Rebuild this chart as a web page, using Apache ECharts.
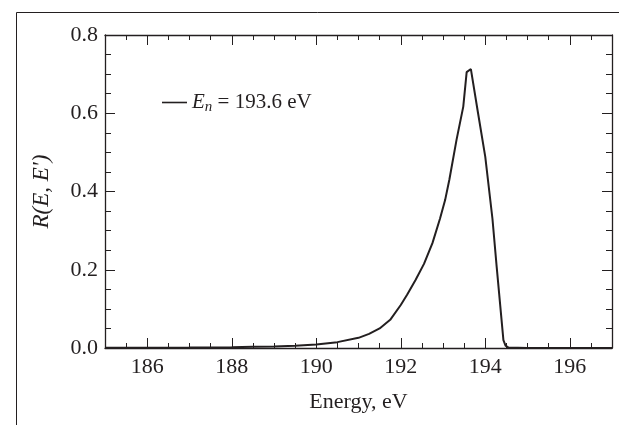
<!DOCTYPE html>
<html><head><meta charset="utf-8">
<script src="https://cdn.jsdelivr.net/npm/echarts@6/dist/echarts.min.js"></script>
<style>html,body{margin:0;padding:0;background:#fff}#c{width:619px;height:425px}</style>
</head><body><div id="c"></div>
<script>
const energy = [185, 186, 187, 188, 188.5, 189, 189.5, 190, 190.5, 191, 191.25, 191.5, 191.75, 192, 192.15, 192.35, 192.55, 192.75, 192.93, 193.05, 193.15, 193.32, 193.48, 193.56, 193.66, 193.83, 194.0, 194.17, 194.27, 194.43, 194.48, 194.55, 195, 196, 197];
const response = [0.0005, 0.0008, 0.0012, 0.002, 0.003, 0.004, 0.006, 0.009, 0.015, 0.026, 0.036, 0.05, 0.072, 0.11, 0.136, 0.174, 0.215, 0.268, 0.331, 0.378, 0.43, 0.532, 0.617, 0.705, 0.713, 0.60, 0.489, 0.331, 0.208, 0.02, 0.006, 0.001, 0, 0, 0];
const xMajor = [186, 188, 190, 192, 194, 196];
const yMajor = [0, 0.2, 0.4, 0.6, 0.8];
const seriesName = 'En';

const FONT = '"Liberation Serif", "DejaVu Serif", serif';
const chart = echarts.init(document.getElementById('c'), null, {renderer: 'canvas'});
const black = '#231f20';
const common = {type: 'value', min: 185, max: 197, gridIndex: 0, splitLine: {show: false}};
const commonY = {type: 'value', min: 0, max: 0.8, gridIndex: 0, splitLine: {show: false}};
chart.setOption({
  animation: false,
  backgroundColor: '#fff',
  grid: {left: 105, top: 35, right: 7, bottom: 77, containLabel: false},
  graphic: [{type: 'polyline', shape: {points: [[16.5, 425], [16.5, 12.5], [619, 12.5]]}, style: {stroke: black, lineWidth: 1, fill: null}}],
  legend: {
    left: 157, top: 87, itemWidth: 25, itemHeight: 14, itemGap: 10,
    icon: 'path://M0,0 L25,0 L25,1.6 L0,1.6 Z',
    data: [seriesName],
    formatter: () => '{i|E}{s|n}{t| = 193.6 eV}',
    textStyle: {
      color: black, fontFamily: FONT, fontSize: 21,
      rich: {
        i: {fontStyle: 'italic', fontFamily: FONT, fontSize: 21, color: black},
        s: {fontStyle: 'italic', fontFamily: FONT, fontSize: 15, color: black, verticalAlign: 'bottom', padding: [9, 0, 0, 0]},
        t: {fontFamily: FONT, fontSize: 21, color: black}
      }
    }
  },
  xAxis: [
    Object.assign({}, common, {position: 'bottom', interval: 0.5,
      name: 'Energy, eV', nameLocation: 'middle', nameGap: 43,
      nameTextStyle: {fontFamily: FONT, fontSize: 22, color: black},
      axisLine: {show: true, lineStyle: {color: black, width: 1.3}},
      axisTick: {show: true, inside: true, length: 5, lineStyle: {color: black, width: 1}},
      axisLabel: {show: true, customValues: xMajor, margin: 8, fontFamily: FONT, fontSize: 22, color: black}}),
    Object.assign({}, common, {position: 'bottom',
      axisLine: {show: false},
      axisTick: {show: true, inside: true, length: 10, customValues: xMajor, lineStyle: {color: black, width: 1}},
      axisLabel: {show: false}}),
    Object.assign({}, common, {position: 'top', interval: 0.5,
      axisLine: {show: true, lineStyle: {color: black, width: 1.3}},
      axisTick: {show: true, inside: true, length: 5, lineStyle: {color: black, width: 1}},
      axisLabel: {show: false}}),
    Object.assign({}, common, {position: 'top',
      axisLine: {show: false},
      axisTick: {show: true, inside: true, length: 10, customValues: xMajor, lineStyle: {color: black, width: 1}},
      axisLabel: {show: false}})
  ],
  yAxis: [
    Object.assign({}, commonY, {position: 'left', interval: 0.2,
      name: "R(E, E')", nameLocation: 'middle', nameGap: 52, nameRotate: 90,
      nameTextStyle: {fontFamily: FONT, fontSize: 23, fontStyle: 'italic', color: black},
      axisLine: {show: true, lineStyle: {color: black, width: 1.3}},
      axisTick: {show: true, inside: true, length: 10, lineStyle: {color: black, width: 1}},
      minorTick: {show: true, splitNumber: 4, length: 6, lineStyle: {color: black, width: 1}},
      axisLabel: {show: true, margin: 7, fontFamily: FONT, fontSize: 22, color: black, formatter: v => v.toFixed(1)}}),
    Object.assign({}, commonY, {position: 'right', interval: 0.2,
      axisLine: {show: true, lineStyle: {color: black, width: 1.3}},
      axisTick: {show: true, inside: true, length: 10, lineStyle: {color: black, width: 1}},
      minorTick: {show: true, splitNumber: 4, length: 6, lineStyle: {color: black, width: 1}},
      axisLabel: {show: false}})
  ],
  series: [{
    name: seriesName, type: 'line', xAxisIndex: 0, yAxisIndex: 0,
    symbol: 'none', smooth: false,
    data: energy.map((e, i) => [e, response[i]]),
    lineStyle: {color: black, width: 2},
    itemStyle: {color: black}
  }]
});
</script></body></html>
